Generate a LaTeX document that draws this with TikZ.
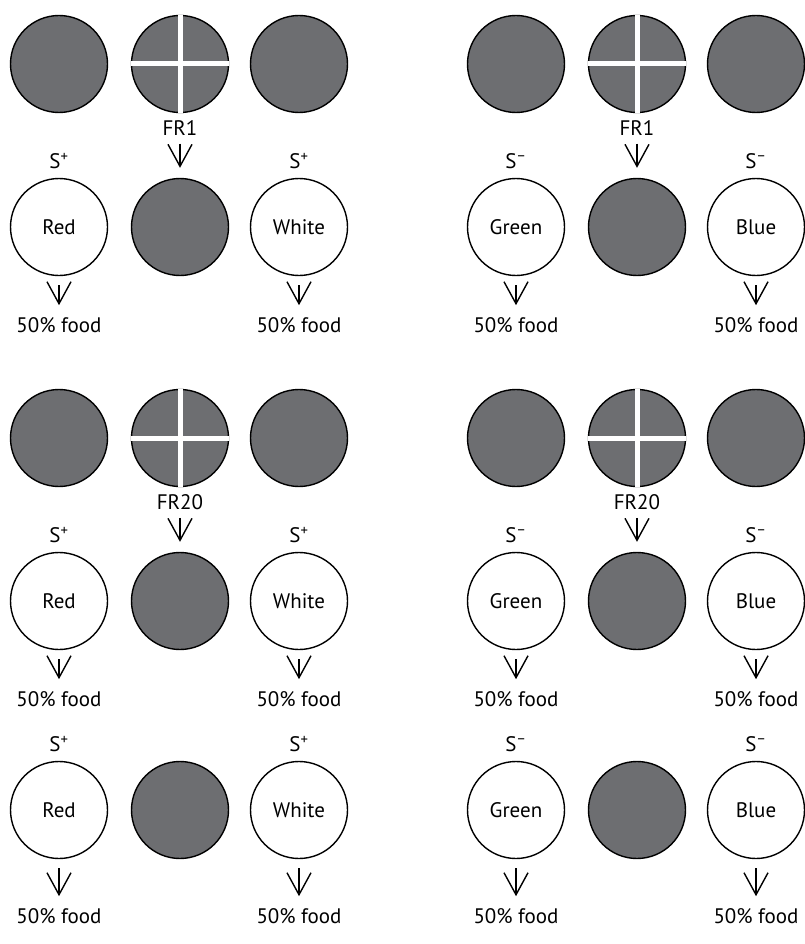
\documentclass[tikz,border=0pt]{standalone}
\usepackage{fontspec}
\setmainfont{PT Sans}
\usetikzlibrary{arrows.meta}
\definecolor{diskgrey}{RGB}{109,110,113}
\begin{document}
\begin{tikzpicture}[x=1pt,y=-1pt,
  disk/.style={circle,draw=black,line width=1.4pt,minimum size=97pt,inner sep=0pt},
  dark/.style={disk,fill=diskgrey},
  light/.style={disk,fill=white,font=\fontsize{21}{24}\selectfont},
  lbl/.style={font=\fontsize{21}{24}\selectfont,inner sep=0pt},
  cross/.style={white,line width=5pt},
  varrow/.style={-{Straight Barb[length=22pt,width=24pt]},line width=1.4pt}
]
\useasboundingbox (0,0) rectangle (804,944);
\foreach \g/\X/\sg/\la/\lb in {L/0/+/Red/White, R/457/–/Green/Blue} {
  \foreach \r/\Y/\F/\fr in {1/227/98/FR1, 2/601/98/FR20, 3/810/106/} {
    % bottom row of three
    \node[light] (\g\r a) at (59+\X,\Y) {\la};
    \node[dark]  (\g\r b) at (180+\X,\Y) {};
    \node[light] (\g\r c) at (299+\X,\Y) {\lb};
    \node[lbl] (\g\r sa) at (59+\X,\Y-66) {S\textsuperscript{\sg}};
    \node[lbl] (\g\r sc) at (299+\X,\Y-66) {S\textsuperscript{\sg}};
    \node[lbl] (\g\r fa) at (59+\X,\Y+\F) {50\% food};
    \node[lbl] (\g\r fc) at (299+\X,\Y+\F) {50\% food};
    \draw[varrow,shorten <=9pt,shorten >=12pt] (\g\r a.south) -- (\g\r fa.north);
    \draw[varrow,shorten <=9pt,shorten >=12pt] (\g\r c.south) -- (\g\r fc.north);
    \ifnum\r<3
      \node[dark] (\g\r t1) at (59+\X,\Y-163) {};
      \node[dark] (\g\r t2) at (180+\X,\Y-163) {};
      \node[dark] (\g\r t3) at (299+\X,\Y-163) {};
      \draw[cross] (\g\r t2.north) -- (\g\r t2.south);
      \draw[cross] (\g\r t2.west) -- (\g\r t2.east);
      \node[lbl] (\g\r fr) at (180+\X,\Y-99) {\fr};
      \draw[varrow,shorten <=8pt,shorten >=10pt] (\g\r fr.south) -- (\g\r b.north);
    \fi
  }
}
\end{tikzpicture}
\end{document}
